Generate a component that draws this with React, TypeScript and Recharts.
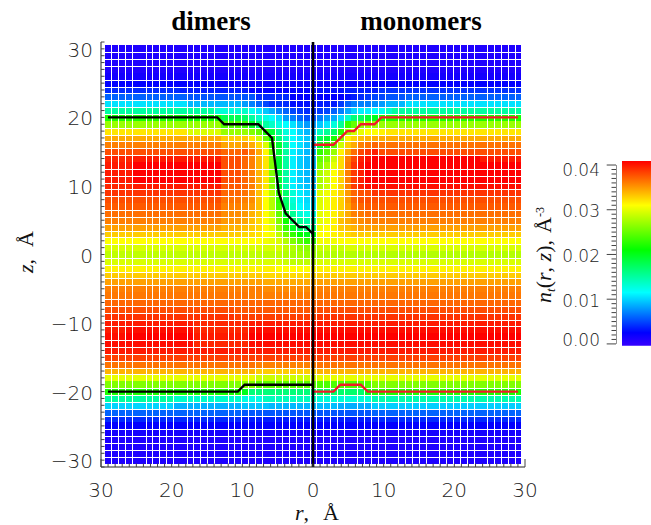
import React from "react";
import { ScatterChart, Scatter, XAxis, YAxis, ReferenceArea } from "recharts";

// Density in units of 0.001 A^-3, one row per z (30 down to -30).
// Each row lists bins going outward from the axis; "v*n" = n bins of v; the last value holds to the edge.
const zRows = [30,29,28,27,26,25,24,23,22,21,20,19,18,17,16,15,14,13,12,11,10,9,8,7,6,5,4,3,2,1,0,-1,-2,-3,-4,-5,-6,-7,-8,-9,-10,-11,-12,-13,-14,-15,-16,-17,-18,-19,-20,-21,-22,-23,-24,-25,-26,-27,-28,-29,-30];
const dimersRows = [
  "1","1","1","1","1.5","2*15 2.5","2.5*10 3.5*10 4","2.5*4 4*5 5.5*10 6",
  "3*4 4*3 5 6 7 8 9*8 10.5",
  "4*2 4.5 5 6 7 8.5 9.5 10.6 12 13.5 13*4 15",
  "5.3*2 6 7 8 10.3 11.5 12.5 13.5 15 17 18*3 21.5*6 22",
  "8*2 9 10.5 11.5 12.5 13.5 15 17 19.5 23 24*3 27",
  "9*2 10 11.5 12.8 15.4 19 22 25 26 27 27*3 29.5*5 32",
  "9.6*2 10.5 11.5 13.5 16.5 21 25 29 32 33 33*3 34.3",
  "9.3*2 10.5 11.5 15 19 23.5 29.5 32.4 34.3 35 34.5*3 36",
  "9*2 10 11 15 19 25 31.3 34.3 36.3 37.5 37*3 38",
  "9*2 9.8 11 15 19 26 32 34 36 37 38*3 40*13 39.5",
  "9*2 9.8 11 15 19 26 32 34 36 37 38*3 41*13 40",
  "9*2 9.8 11 15 19 26 32 34 36 37 38*3 41*13 40",
  "9*2 9.8 11 15 19 26 32 34 36 37 38*3 41*13 40",
  "9.3*2 10 11 14.5 19 26.5 32 34 36 37 37.5*3 40*13 39.5",
  "10*2 11 13 17 23 28 31 33.5 35.5 36.5 37*3 39",
  "10.2*2 11 13 17 23 28 31 33.5 35.5 36 36.5*3 38",
  "10.5*2 11.5 13.5 17.5 23.5 28 31 33.5 35 35.5 36*3 37.5",
  "12.5*2 13 15.5 19 25 29 31 33 34 35 35.5*3 36.7",
  "14.5*2 15.5 17.3 21.5 26 29.5 31 32.5 33.5 34.5 35*3 36",
  "16*2 17.3 19.5 23.3 27 30 31 32.5 33 33.5 34*3 34.7",
  "20*2 21 23 25.5 28.5 30.5 31 32 32.5*2 33",
  "23*2 24.5 26 28 29.5 30 30.5 31",
  "26.5*2 27 28 28.5 29.5",
  "27*2 27.5*2 28 28.5",
  "28.5*4 29 29.5",
  "31*6 31.5",
  "32.5*8 33",
  "34.3*8 34.7",
  "35.5*8 36",
  "36*10 36.3",
  "37",
  "37.5*12 38",
  "38.5*12 39",
  "40*10 39.5*8 40",
  "40.5*10 39.5*8 40.5*10 40",
  "41*10 40*8 41*10 40.5",
  "40.5*10 39.5*8 40.5",
  "40","38.5","36*9 36.5","33*9 34","29*9 30","24.5*9 26",
  "16.5*10 20 22",
  "14*8 12.5*3 13.5*10 15",
  "9*7 9.5*4 8.8*10 10",
  "5.5*11 6","3.5*11 4","2.5","1.5","1","1","1","1",
];
const monomersRows = [
  "1","1","1","1","1.5","2*8 2.5","3*4 3.5*5 4.3",
  "2.5*4 3 3.5 4 4.5 5*2 5.5*3 6",
  "3.5*3 4.6 6 7*3 7.5 8 9*3 10.5",
  "4.6 5 6 7 8.5 10 11*2 11.5 12 13.5 15",
  "7 8 8.5 10.3 13.5 16.5 17.3 19 20 22",
  "9.6 10.6 12.8 15.4 23 25 26.5 27",
  "14 15.4 17.3 22.5 27 29 30 31*2 31.5 32",
  "18 19 22 25.5 31.5 32.7 33.5 34 34.3",
  "19 22 24.5 29 33 34.3 36 36.5 37 36.5",
  "23 24.5 27 31.5 34.3 36.7 38.2 39 39.8 38",
  "25 26 29 32.4 36 38.2 39.8 40.5 41*16 40",
  "26 27.7 30 32.4 36.3 39 40.2 41",
  "27.7 29 31 32.8 36 38.7 39.8 41",
  "27.7 29 31 32.8 36 38.7 39.8 41",
  "27.7 29 31 32.8 36 38.7 39.8 40.5",
  "29.6 30.4 31.6 32.8 35 37 37.8 38 39",
  "29.6 30.4 31.6 32.8 35 37 37.8 38",
  "29.8 30.5 31.6 32.8 34.5 36.5 37 37.5",
  "30 30.5 31.5 32.8 34.3 36 36.3 36.7",
  "30 30.5 31.5 33.5 34.3 35 35.5 36",
  "30.5 31 31.5 33 33.5 34 34.7",
  "31*2 31.5 32 32.5 33",
  "30.5*3 31",
  "29*4 29.5",
  "28",
  "29.5","31.5","33","34.7","36","36.3","37","38","39","40","40.5","41","40.5","40","38.5","36.5","34","30",
  "24*8 26",
  "17*7 20 22",
  "13*8 14.5",
  "9.2*3 8.6*5 9.8",
  "5.5*8 6","3.5*8 4","2.5","1.5","1","1","1","1",
];

// Boundary curves: [bin index from the axis, z]
const dimersTop = [[-30,20],[-14,20],[-13,19],[-8,19],[-7,18],[-6,17],[-5,9],[-4,6],[-3,5],[-2,4],[-1,4],[0,3]];
const dimersBottom = [[-30,-20],[-11,-20],[-10,-19],[0,-19]];
const monomersTop = [[0,16],[3,16],[5,18],[6,18],[7,19],[9,19],[10,20],[30,20]];
const monomersBottom = [[0,-20],[3,-20],[4,-19],[7,-19],[8,-20],[30,-20]];
const axisDivider = [{ r: 0, z: -31 }, { r: 0, z: 31 }];

const rLabels = [-30,-20,-10,0,10,20,30];
const zLabels = [-30,-20,-10,0,10,20,30];
const barLabels = [0,10,20,30,40];
const barSpine = [{ x: 0, y: 0 }, { x: 0, y: 0.04 }];
const barExtent = [{ x: 0, y: -0.0004 }, { x: 35, y: 0.0409 }];
const hiddenColGaps = [-26,-20,-14,-7,5,11,17,24];
const hiddenRowGaps = [3,10,16,22,29,35,41,48,54];

// Rainbow: value (0.001 A^-3) -> colour
const stopValues = [0,2.5,11.5,21,31,41];
const stopColors = [[48,0,255],[0,0,255],[0,255,255],[0,255,0],[255,255,0],[255,0,0]];

const W = 651, H = 525;
const PLOT_L = 101, PLOT_T = 42, PLOT_R = 525, PLOT_B = 467;
const BIN = 59 / 61; // 61 bins fill +-29.5 A of the r axis
const XP = ((PLOT_R - PLOT_L) / 60) * BIN;
const YP = (PLOT_B - PLOT_T) / 62;
const TICK = "#444";
const LABEL = "#222";
const NUM_FONT = '"DejaVu Sans", sans-serif';
const SERIF = '"Liberation Serif", serif';

function expand(row: string, len: number): number[] {
  const out: number[] = [];
  row.split(" ").forEach((t) => {
    const [v, n] = t.split("*");
    const c = n ? +n : 1;
    for (let i = 0; i < c; i++) out.push(+v);
  });
  while (out.length < len) out.push(out[out.length - 1]);
  return out.slice(0, len);
}

function color(v: number): string {
  let i = 0;
  while (i < stopValues.length - 2 && v > stopValues[i + 1]) i++;
  const t = Math.max(0, Math.min(1, (v - stopValues[i]) / (stopValues[i + 1] - stopValues[i])));
  const a = stopColors[i], b = stopColors[i + 1];
  return `rgb(${Math.round(a[0] + (b[0] - a[0]) * t)},${Math.round(a[1] + (b[1] - a[1]) * t)},${Math.round(a[2] + (b[2] - a[2]) * t)})`;
}

const cells: any[] = [];
zRows.forEach((z, row) => {
  const left = expand(dimersRows[row], 31);
  const right = expand(monomersRows[row], 30);
  for (let k = -30; k <= 30; k++) {
    cells.push({ r: k * BIN, z, k, row, v: k <= 0 ? left[-k] : right[k - 1] });
  }
});

const toCurve = (pts: number[][]) => pts.map(([k, z]) => ({ r: k * BIN, z }));

const colGapSet = new Set(hiddenColGaps);
const rowGapSet = new Set(hiddenRowGaps);

const CellShape = (p: any) => {
  const { cx, cy, payload: c } = p;
  if (cx == null || !c) return null;
  const l = Math.round(cx - XP / 2), rr = Math.round(cx + XP / 2);
  const t = Math.round(cy - YP / 2), b = Math.round(cy + YP / 2);
  const x0 = c.k === -30 || colGapSet.has(c.k - 1) ? l : l + 1;
  const y0 = c.row === 0 || rowGapSet.has(c.row - 1) ? t : t + 1;
  return <rect x={x0} y={y0} width={rr - x0} height={b - y0} fill={color(c.v)} shapeRendering="crispEdges" />;
};
const NoMarker = () => null;

const rTicks: number[] = [];
for (let v = -30; v <= 30; v++) rTicks.push(v);
const zTicks: number[] = [];
for (let v = -31; v <= 31; v++) zTicks.push(v);
const barTicks: number[] = [];
for (let v = 0; v <= 40; v++) barTicks.push(v);

const fmt = (v: number) => (v < 0 ? "\u2212" + Math.abs(v) : String(v));

const RTick = ({ x, y, payload }: any) => {
  const v = payload.value;
  const len = Math.abs(v) === 30 ? 8 : 3.5;
  return (
    <g>
      <line x1={x} x2={x} y1={y} y2={y - len} stroke={TICK} />
      {rLabels.includes(v) && (
        <text x={x} y={y + 30} textAnchor="middle" fontFamily={NUM_FONT} fontSize={20} fontWeight={200} fill={LABEL}>
          {Math.abs(v)}
        </text>
      )}
    </g>
  );
};
const ZTick = ({ x, y, payload }: any) => {
  const v = payload.value;
  return (
    <g>
      <line x1={x} x2={x + 3.5} y1={y} y2={y} stroke={TICK} />
      {zLabels.includes(v) && (
        <text x={x - 8} y={y + 8} textAnchor="end" fontFamily={NUM_FONT} fontSize={20} fontWeight={200} fill={LABEL}>
          {fmt(v)}
        </text>
      )}
    </g>
  );
};
const BarTick = ({ x, y, payload }: any) => {
  const v = Math.round(payload.value * 1000);
  const major = barLabels.includes(v);
  const dy = v === 40 ? 10.5 : v === 0 ? 2.5 : 7.5;
  return (
    <g>
      <line x1={x} x2={x - (major ? 9.3 : 4.5)} y1={y} y2={y} stroke={TICK} />
      {major && (
        <text x={600} y={y + dy} textAnchor="end" fontFamily={NUM_FONT} fontSize={17} fontWeight={200} fill={LABEL}>
          {(v / 1000).toFixed(2)}
        </text>
      )}
    </g>
  );
};

const boxStyle: React.CSSProperties = { position: "absolute", left: 0, top: 0 };

export default function App() {
  return (
    <div style={{ position: "absolute", left: 0, top: 0, width: W, height: H, background: "#fff", overflow: "hidden" }}>
      <div style={boxStyle}>
        <ScatterChart width={W} height={H} margin={{ top: PLOT_T, right: W - PLOT_R, bottom: 0, left: 0 }}>
          <XAxis
            type="number"
            dataKey="r"
            domain={[-30, 30]}
            ticks={rTicks}
            interval={0}
            tick={RTick}
            tickLine={false}
            tickSize={0}
            tickMargin={0}
            height={H - PLOT_B}
            axisLine={{ stroke: "#222" }}
            allowDataOverflow
          />
          <YAxis
            type="number"
            dataKey="z"
            domain={[-31, 31]}
            ticks={zTicks}
            interval={0}
            tick={ZTick}
            tickLine={false}
            tickSize={0}
            tickMargin={0}
            width={PLOT_L}
            axisLine={{ stroke: "#222" }}
            allowDataOverflow
          />
          <Scatter data={cells} shape={CellShape} isAnimationActive={false} />
          <Scatter data={toCurve(dimersTop)} line={{ stroke: "#000", strokeWidth: 2.4 }} lineType="joint" shape={NoMarker} isAnimationActive={false} />
          <Scatter data={toCurve(dimersBottom)} line={{ stroke: "#000", strokeWidth: 2.4 }} lineType="joint" shape={NoMarker} isAnimationActive={false} />
          <Scatter data={toCurve(monomersTop)} line={{ stroke: "#f01c28", strokeWidth: 2.4 }} lineType="joint" shape={NoMarker} isAnimationActive={false} />
          <Scatter data={toCurve(monomersBottom)} line={{ stroke: "#f01c28", strokeWidth: 2.4 }} lineType="joint" shape={NoMarker} isAnimationActive={false} />
          <Scatter data={axisDivider} line={{ stroke: "#000", strokeWidth: 2.6 }} lineType="joint" shape={NoMarker} isAnimationActive={false} />
        </ScatterChart>
      </div>
      <div style={boxStyle}>
        <ScatterChart width={W} height={H} margin={{ top: 161, right: 0, bottom: H - 345.7, left: 0 }}>
          <defs>
            <linearGradient id="rainbow" x1="0" y1="1" x2="0" y2="0">
              {stopValues.map((v, i) => (
                <stop key={v} offset={(v + 0.4) / 41.3} stopColor={`rgb(${stopColors[i].join(",")})`} />
              ))}
            </linearGradient>
          </defs>
          <XAxis type="number" dataKey="x" domain={[0, 35]} hide allowDataOverflow />
          <YAxis
            type="number"
            dataKey="y"
            domain={[-0.0004, 0.0409]}
            ticks={barTicks.map((v) => v / 1000)}
            interval={0}
            tick={BarTick}
            tickLine={false}
            tickSize={0}
            tickMargin={0}
            width={616}
            axisLine={false}
            allowDataOverflow
          />
          <Scatter data={barExtent} shape={NoMarker} isAnimationActive={false} />
          <ReferenceArea x1={6} x2={35} y1={-0.0004} y2={0.0409} fill="url(#rainbow)" fillOpacity={1} stroke="none" ifOverflow="visible" />
          <Scatter data={barSpine} line={{ stroke: "#222", strokeWidth: 1 }} lineType="joint" shape={NoMarker} isAnimationActive={false} />
        </ScatterChart>
      </div>
      <svg width={W} height={H} style={{ ...boxStyle, pointerEvents: "none" }}>
        <text x={211} y={30} textAnchor="middle" fontFamily={SERIF} fontWeight="bold" fontSize={27} fill="#000">dimers</text>
        <text x={421} y={30} textAnchor="middle" fontFamily={SERIF} fontWeight="bold" fontSize={27} fill="#000">monomers</text>
        <text x={295} y={520} fontFamily={SERIF} fontSize={22} fill="#111">
          <tspan fontStyle="italic">r</tspan>
          <tspan>,</tspan>
          <tspan dx={14}>Å</tspan>
        </text>
        <text transform="translate(33,252) rotate(-90)" textAnchor="middle" fontFamily={SERIF} fontSize={22} fill="#111">
          <tspan fontStyle="italic">z</tspan>
          <tspan>,</tspan>
          <tspan dx={12}>Å</tspan>
        </text>
        <text transform="translate(551,255) rotate(-90)" textAnchor="middle" fontFamily={SERIF} fontSize={22} fill="#111">
          <tspan fontStyle="italic">n</tspan>
          <tspan fontStyle="italic" fontSize={13} dy={4}>t</tspan>
          <tspan dy={-4}>(</tspan>
          <tspan fontStyle="italic">r</tspan>
          <tspan>, </tspan>
          <tspan fontStyle="italic">z</tspan>
          <tspan>),</tspan>
          <tspan dx={7}>Å</tspan>
          <tspan fontSize={12} dy={-7}>-3</tspan>
        </text>
      </svg>
    </div>
  );
}
